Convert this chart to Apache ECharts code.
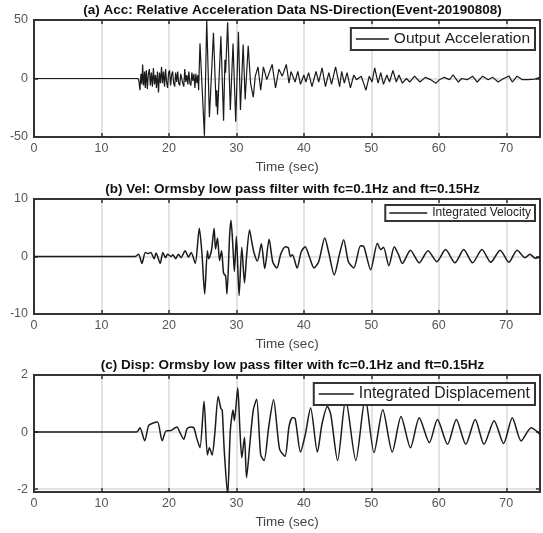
<!DOCTYPE html>
<html>
<head>
<meta charset="utf-8">
<script src="https://cdn.jsdelivr.net/npm/echarts@6/dist/echarts.min.js"></script>
<style>
  html, body { margin: 0; padding: 0; background: #fff; }
  #chart { width: 543px; height: 533px; }
</style>
</head>
<body>
<div id="chart"></div>
<script>
// time ticks shared by the three panels
const timeTicks = [0, 10, 20, 30, 40, 50, 60, 70];

const titles = [
    '(a) Acc: Relative Acceleration Data NS-Direction(Event-20190808)',
    '(b) Vel: Ormsby low pass filter with fc=0.1Hz and ft=0.15Hz',
    '(c) Disp: Ormsby low pass filter with fc=0.1Hz and ft=0.15Hz'
];
const seriesNames = ['Output Acceleration', 'Integrated Velocity', 'Integrated Displacement'];

// [time (sec), value]
const accPoints = [
    [0, 0], [15.4, 0], [15.55, -2], [15.7, -10], [15.85, 4], [16.0, -5], [16.1, 12], [16.25, -6],
    [16.4, 6], [16.5, -8], [16.65, 7], [16.8, -9], [16.95, 4], [17.1, 8], [17.25, -6], [17.4, 5],
    [17.55, -7], [17.7, 9], [17.85, -5], [18.0, 3], [18.15, -8], [18.3, 6], [18.45, -12], [18.6, 5],
    [18.75, -4], [18.9, 10], [19.05, -4], [19.2, 6], [19.35, -7], [19.5, 8], [19.65, -3], [19.8, -8],
    [19.95, 5], [20.1, 7], [20.25, -6], [20.4, 3], [20.55, 6], [20.7, -4], [20.85, -7], [21.0, 5],
    [21.15, -3], [21.3, 6], [21.45, -4], [21.6, -6], [21.75, 4], [21.9, 5], [22.05, -4], [22.2, -7],
    [22.35, 8], [22.5, -3], [22.65, 3], [22.8, -5], [22.95, 6], [23.1, -4], [23.25, -6], [23.4, 5],
    [23.55, -2], [23.7, 4], [23.85, -8], [24.0, 4], [24.15, -4], [24.3, 3], [24.4, -10],
    [24.6, 30], [25.26, -49], [25.6, 50], [26.0, -33], [26.6, 39], [27.0, -24], [27.1, -10],
    [27.2, -31], [27.7, 36], [28.1, -36], [28.3, 16], [28.4, 5], [28.7, 48], [29.1, -27], [29.5, 30], [29.9, -37],
    [30.3, 40], [30.6, -27], [31.0, 29], [31.3, -18], [31.75, 28], [32.1, -4], [32.5, -16], [32.8, 2], [33.2, 10],
    [33.6, -10], [34.0, 10], [34.5, -1], [35.3, 12], [35.8, -8], [36.3, 8], [36.8, 2], [37.4, 12], [37.8, -4],
    [38.1, 6], [38.7, -3], [39.1, 6], [39.5, -5], [40.0, 3], [40.3, -3], [40.7, 5], [41.2, -7], [41.8, 6], [42.2, -3],
    [42.7, 9], [43.2, -7], [43.7, 5], [44.1, -5], [44.7, 10], [45.3, -7], [45.6, 6], [46.0, -4], [46.4, 5], [46.9, -8],
    [47.4, 3], [47.8, -1], [48.5, 2], [49.2, -10], [49.7, 2], [50.1, -3], [50.5, 9], [51.0, -4], [51.4, 5], [51.8, -5],
    [52.3, 3], [52.7, -3], [53.2, 7], [53.7, -3], [54.1, 3], [54.6, -4], [55.2, 0], [55.7, -3], [56.4, 2], [57.2, -3],
    [58.0, 1], [58.8, -1], [59.6, -4], [60.1, -1], [60.8, 1], [61.6, -1], [62.1, 3], [62.9, -3], [63.4, 0], [64.2, -1],
    [65.0, 2], [65.7, -3], [66.5, 2], [67.3, -1], [68.0, 1], [68.8, -3], [69.6, 0], [70.4, 2], [70.9, -3], [71.6, 2],
    [72.4, -1], [73.2, -1], [74.2, -0.5], [75, 1]
];

const velPoints = [
    [0, 0], [15.0, 0], [15.5, 0.4], [16.0, -1.2], [16.5, 0.7], [16.9, 0.5], [17.3, 0.7], [17.8, -0.4], [18.1, 0.6],
    [18.7, -1.2], [19.1, 0.7], [19.5, -0.2], [19.8, 0.4], [20.3, 0], [20.6, 0.3], [21.0, -0.4], [21.4, 0.4],
    [21.8, -0.2], [22.4, 1.0], [22.9, -0.1], [23.3, 0.7], [23.9, -1.2], [24.5, 4.9], [24.9, 0.4], [25.3, -6.5],
    [25.7, 1.0], [25.9, -0.4], [26.3, 1.0], [26.7, 4.9], [26.9, 1.3], [27.2, 3.2], [27.5, -0.7], [27.8, 1.0],
    [28.1, -2.9], [28.4, -3.4], [28.6, -6.5], [29.0, 3.8], [29.2, 6.3], [29.5, 1.3], [29.7, -2.6], [30.0, 3.5],
    [30.4, -6.8], [30.8, 1.6], [31.2, -4.6], [31.5, -0.1], [31.95, 4.6], [32.3, 2.4], [32.6, 0.7], [33.1, -0.8],
    [33.7, 2.2], [34.2, -2.1], [34.85, 3.0], [35.4, -1.0], [36.0, -2.0], [36.6, 0.5], [37.3, 1.7], [37.7, 1.5],
    [38.0, 0], [38.3, 0.3], [39.0, -2.0], [39.6, 0.8], [40.2, 1.7], [40.8, 0], [41.5, -2.0], [42.2, -0.9],
    [43.1, 3.2], [43.7, 0.6], [44.5, -3.2], [45.3, 0.5], [45.9, 2.9], [46.6, -0.9], [47.4, -2.0], [48.4, 1.85],
    [48.9, 1.7], [49.9, -2.3], [50.9, 2.3], [51.4, 1.2], [51.8, 1.6], [52.6, -1.6], [53.4, 1.7], [54.0, 0.4],
    [54.6, -1.2], [55.8, 1.1], [57.1, -1.1], [58.4, 1.0], [59.7, -0.9], [61.0, 1.2], [62.4, -1.1], [63.7, 1.2],
    [65.0, -1.1], [66.4, 1.2], [67.7, -1.0], [69.1, 1.1], [70.4, -1.0], [71.6, 1.1], [72.8, -0.2], [73.5, 0.4],
    [74.3, -0.3], [75, -0.1]
];

const dispPoints = [
    [0, 0], [15.2, 0], [15.7, 0.15], [16.4, -0.3], [17.0, 0.24], [17.5, 0.3], [18.3, 0.35], [19.0, -0.3],
    [19.6, 0.05], [20.1, 0.05], [20.5, 0.08], [20.9, 0.15], [21.2, 0.18], [21.6, 0], [22.2, -0.25], [22.7, 0.12],
    [23.3, 0.18], [23.7, 0.15], [24.1, -0.2], [24.6, -0.55], [25.2, 1.08], [25.7, -0.8], [26.0, -0.55],
    [26.4, -0.8], [26.8, -0.05], [27.3, 1.25], [27.7, 0.83], [27.9, 0.77], [28.2, -0.65], [28.7, -2.2],
    [29.1, 0.06], [29.5, 0.77], [29.7, 0.4], [30.2, 1.55], [30.5, 0.18], [30.8, -0.9], [31.2, -0.18],
    [31.5, -1.6], [32.0, -0.4], [32.5, 0.77], [33.0, 1.15], [33.6, -0.8], [34.1, -1.0], [34.8, 0.2], [35.5, 1.13],
    [36.4, -0.6], [37.2, -0.85], [37.8, 0.2], [38.3, 0.5], [38.7, 0.48], [39.5, -0.7], [40.2, -0.1], [41.0, 0.84],
    [42.0, -0.7], [42.7, 0.3], [43.5, 0.9], [44.0, 0.6], [45.0, -1.0], [46.2, 1.15], [47.7, -1.0], [49.1, 1.2],
    [50.4, -0.72], [51.7, 0.78], [53.1, -0.7], [54.4, 0.55], [55.8, -0.55], [57.1, 0.5], [58.6, -0.37],
    [59.8, 0.44], [61.3, -0.43], [62.6, 0.44], [64.0, -0.43], [65.4, 0.44], [66.7, -0.43], [68.2, 0.4],
    [69.6, -0.4], [70.9, 0.5], [72.2, -0.31], [73.7, 0.15], [75, -0.08]
];

// y ranges; the third panel runs a little below its lowest labelled tick
const yRanges = [
    { min: -50, max: 50, interval: 50 },
    { min: -10, max: 10, interval: 10 },
    { min: -2.1, max: 2, ticks: [-2, 0, 2] }
];

const gridTops = [20, 199, 375];
const gridHeights = [117, 115, 117];
const GRID_LEFT = 34;
const GRID_RIGHT = 2;
const FONT = 'Liberation Sans, Arial, sans-serif';
const GRID_GRAY = '#dadada';

const chart = echarts.init(document.getElementById('chart'), null, { renderer: 'canvas' });

const grids = [], xAxes = [], yAxes = [], series = [], titleOpts = [], legends = [];
const allPoints = [accPoints, velPoints, dispPoints];
const lineWidths = [1.2, 1.5, 1.5];

// legend box placement and text size
const legendBoxes = [
    { right: 8, top: 28, size: 15.5, w: 33, pad: [3, 5, 3, 5] },
    { right: 8, top: 205, size: 12, w: 38, pad: [2, 4, 2, 4] },
    { right: 8, top: 383, size: 15.8, w: 35, pad: [3, 5, 3, 5] }
];

for (let i = 0; i < 3; i++) {
    grids.push({
        left: GRID_LEFT, right: GRID_RIGHT, top: gridTops[i], height: gridHeights[i],
        show: true, borderColor: '#333', borderWidth: 2
    });

    titleOpts.push({
        text: titles[i],
        left: 287.5, top: gridTops[i] - 22, textAlign: 'center',
        textStyle: { fontFamily: FONT, fontSize: 13.5, fontWeight: 'bold', color: '#111' }
    });

    // bottom x axis with labels
    xAxes.push({
        type: 'value', gridIndex: i, min: 0, max: 75, interval: 10,
        name: 'Time (sec)', nameLocation: 'middle', nameGap: 23,
        nameTextStyle: { fontFamily: FONT, fontSize: 13.5, color: '#444' },
        axisLine: { show: true, onZero: false, lineStyle: { color: '#333', width: 2 } },
        axisTick: { show: true, inside: true, length: 4, lineStyle: { color: '#333', width: 1.5 } },
        axisLabel: {
            fontFamily: FONT, fontSize: 12.5, color: '#555', margin: 5,
            formatter: v => (timeTicks.indexOf(v) >= 0 ? String(v) : '')
        },
        splitLine: { show: true, lineStyle: { color: GRID_GRAY, width: 1.5 } }
    });
    // top x axis, ticks only
    xAxes.push({
        type: 'value', gridIndex: i, min: 0, max: 75, interval: 10, position: 'top',
        axisLine: { show: true, onZero: false, lineStyle: { color: '#333', width: 2 } },
        axisTick: { show: true, inside: true, length: 4, lineStyle: { color: '#333', width: 1.5 } },
        axisLabel: { show: false },
        splitLine: { show: false }
    });

    const yr = yRanges[i];
    const tickOpt = { show: true, inside: true, length: 4, lineStyle: { color: '#333', width: 1.5 } };
    const labelOpt = { fontFamily: FONT, fontSize: 12.5, color: '#555', margin: 6 };
    if (yr.ticks) {
        tickOpt.customValues = yr.ticks;
        labelOpt.customValues = yr.ticks;
    }
    yAxes.push({
        type: 'value', gridIndex: i, min: yr.min, max: yr.max, interval: yr.interval,
        axisLine: { show: true, onZero: false, lineStyle: { color: '#333', width: 2 } },
        axisTick: tickOpt,
        axisLabel: labelOpt,
        splitLine: { show: true, lineStyle: { color: GRID_GRAY, width: 1.5 } }
    });
    yAxes.push({
        type: 'value', gridIndex: i, min: yr.min, max: yr.max, interval: yr.interval, position: 'right',
        axisLine: { show: true, onZero: false, lineStyle: { color: '#333', width: 2 } },
        axisTick: Object.assign({}, tickOpt),
        axisLabel: { show: false },
        splitLine: { show: false }
    });

    const s = {
        name: seriesNames[i], type: 'line',
        xAxisIndex: i * 2, yAxisIndex: i * 2,
        data: allPoints[i],
        showSymbol: false, symbol: 'none',
        smooth: i === 0 ? false : 0.25,
        lineStyle: { color: '#1a1a1a', width: lineWidths[i] },
        itemStyle: { color: '#1a1a1a' },
        animation: false,
        z: 2
    };
    series.push(s);

    const lb = legendBoxes[i];
    legends.push({
        data: [seriesNames[i]],
        right: lb.right, top: lb.top,
        orient: 'horizontal',
        itemWidth: lb.w, itemHeight: 1.5, itemGap: 3,
        padding: lb.pad,
        backgroundColor: '#fff',
        borderColor: '#333', borderWidth: 2, borderRadius: 0,
        icon: 'rect',
        selectedMode: false,
        textStyle: { fontFamily: FONT, fontSize: lb.size, color: '#222' },
        z: 10
    });
}

chart.setOption({
    backgroundColor: '#fff',
    animation: false,
    title: titleOpts,
    legend: legends,
    grid: grids,
    xAxis: xAxes,
    yAxis: yAxes,
    series: series
});
</script>
</body>
</html>
